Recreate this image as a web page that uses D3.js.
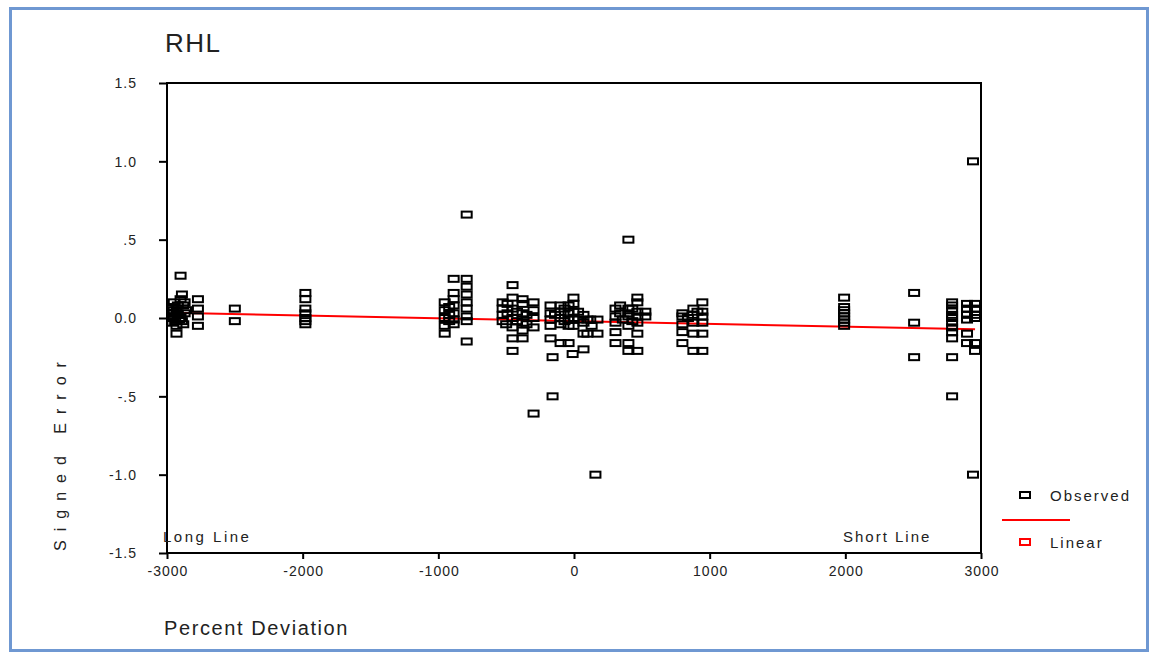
<!DOCTYPE html>
<html>
<head>
<meta charset="utf-8">
<script src="https://cdn.jsdelivr.net/npm/d3@7"></script>
<style>
  body { margin: 0; background: #fff; }
  svg text { font-family: "Liberation Sans", Arial, sans-serif; fill: #222; }
</style>
</head>
<body>
<div id="master"></div>
<script>
// observed points: percent deviation / signed error
const devs = [
  -2900, -2890, -2900, -2950, -2960, -2930, -2880, -2960, -2920, -2870, -2950, -2910, -2960, -2890, -2930, -2930, -2860,
  -2950, -2940, -2900, -2880, -2920, -2870,
  -2772, -2772, -2772, -2772, -2500, -2500,
  -1980, -1980, -1980, -1980, -1980, -1980, -1980,
  -953, -953, -953, -953, -953, -920, -920, -920,
  -887, -887, -887, -887, -887, -887, -887,
  -791, -791, -791, -791, -791, -791, -791, -791, -791,
  -526, -526, -526, -526, -490, -490, -500,
  -453, -453, -453, -453, -453, -453, -453, -420, -420,
  -379, -379, -379, -379, -379, -379, -350, -350,
  -298, -298, -298, -298, -298,
  -173, -173, -173, -173, -173, -158, -158, -140,
  -99, -99, -99, -99, -99, -70, -70, -40, -40, -40, -40, -40,
  -4, -4, -4, -4, -4, -10, 30, 30, 70, 70, 70, 70, 99, 99, 120, 130, 158, 173, 173,
  306, 306, 306, 306, 306, 340, 340, 360,
  401, 401, 401, 401, 401, 401, 401, 430, 430,
  467, 467, 467, 467, 467, 467, 467, 526, 526,
  799, 799, 799, 799, 799, 840, 880, 880, 880, 880, 880, 910,
  946, 946, 946, 946, 946, 946,
  1991, 1991, 1991, 1991, 1991, 1991, 1991, 1991,
  2507, 2507, 2507,
  2787, 2787, 2787, 2787, 2787, 2787, 2787, 2787, 2787, 2787, 2787,
  2897, 2897, 2897, 2897, 2897, 2897,
  2956, 2956, 2956, 2956, 2956, 2956, 2941, 2941
];
const errs = [
  0.27, 0.15, 0.12, 0.10, 0.07, 0.05, 0.08, 0.03, 0.02, 0.03, 0.00, -0.01, -0.03, -0.02, -0.05, -0.10, 0.05,
  0.05, -0.02, 0.00, -0.04, 0.08, 0.10,
  0.12, 0.06, 0.01, -0.05, 0.06, -0.02,
  0.16, 0.12, 0.06, 0.03, 0.00, -0.02, -0.04,
  0.10, 0.05, 0.00, -0.05, -0.10, 0.07, 0.02, -0.02,
  0.25, 0.16, 0.12, 0.08, 0.03, -0.01, -0.04,
  0.66, 0.25, 0.20, 0.15, 0.10, 0.06, 0.01, -0.02, -0.15,
  0.10, 0.06, 0.02, -0.02, 0.09, 0.03, -0.04,
  0.21, 0.13, 0.06, 0.00, -0.06, -0.13, -0.21, 0.04, -0.02,
  0.12, 0.09, 0.03, -0.03, -0.08, -0.13, 0.02, -0.04,
  0.10, 0.05, 0.00, -0.06, -0.61,
  0.08, 0.03, -0.01, -0.05, -0.13, -0.25, -0.50, 0.02,
  0.08, 0.04, 0.00, -0.04, -0.16, 0.06, -0.02, 0.08, 0.03, -0.01, -0.05, -0.16,
  0.13, 0.09, 0.04, 0.00, -0.05, -0.23, 0.04, -0.01, 0.02, -0.03, -0.10, -0.20, -0.01, -0.10, -0.01, -0.05, -1.00, -0.01, -0.10,
  0.06, 0.01, -0.03, -0.09, -0.16, 0.08, 0.03, -0.01,
  0.50, 0.06, 0.03, 0.01, -0.05, -0.16, -0.21, 0.06, -0.02,
  0.13, 0.10, 0.04, 0.01, -0.03, -0.10, -0.21, 0.04, 0.01,
  0.03, 0.01, -0.04, -0.09, -0.16, 0.00, 0.06, 0.02, -0.03, -0.10, -0.21, 0.04,
  0.10, 0.04, 0.01, -0.03, -0.10, -0.21,
  0.13, 0.07, 0.05, 0.03, 0.01, -0.01, -0.03, -0.05,
  0.16, -0.03, -0.25,
  0.10, 0.08, 0.05, 0.02, 0.00, -0.03, -0.06, -0.09, -0.13, -0.25, -0.50,
  0.09, 0.06, 0.02, -0.01, -0.10, -0.16,
  0.09, 0.06, 0.02, 0.00, -0.16, -0.21, 1.00, -1.00
];
// linear fit, read at its two ends
const fitDevs = [-2970, 2956];
const fitErrs = [0.033, -0.072];

const xTicks = [-3000, -2000, -1000, 0, 1000, 2000, 3000];
const yTicks = [1.5, 1.0, 0.5, 0.0, -0.5, -1.0, -1.5];
const yTickLabels = ["1.5", "1.0", ".5", "0.0", "-.5", "-1.0", "-1.5"];

const w = 1157, h = 654;
const padL = 167, padR = 981, padT = 83, padB = 553;

let svg = d3.select("#master").append("svg").attr("width", w).attr("height", h);

// outer frame
svg.append("rect").attr("x", 10.5).attr("y", 8.5).attr("width", 1137).attr("height", 642)
  .attr("fill", "none").attr("stroke", "#6f98d2").attr("stroke-width", 3);

let x = d3.scaleLinear().domain([-3000, 3000]).range([padL, padR]);
let y = d3.scaleLinear().domain([-1.5, 1.5]).range([padB, padT]);

// axes
let xAxis = d3.axisBottom(x).tickValues(xTicks).tickSize(6).tickSizeOuter(0).tickFormat(d => String(d));
let yAxis = d3.axisLeft(y).tickValues(yTicks).tickSize(8).tickSizeOuter(0)
  .tickFormat((d, i) => yTickLabels[i]);

let gx = svg.append("g").attr("transform", "translate(0," + padB + ")").call(xAxis);
let gy = svg.append("g").attr("transform", "translate(" + padL + ",0)").call(yAxis);
[gx, gy].forEach(g => {
  g.select(".domain").remove();
  g.selectAll("line").attr("stroke", "#000").attr("stroke-width", 2);
  g.selectAll("text").style("font-size", "14px").style("letter-spacing", "1px").attr("fill", "#222");
});
gx.selectAll("text").attr("dy", "1.0em").attr("dx", "0.5px");
gy.selectAll("text").attr("x", -30).attr("dy", "0.35em");

// plot box
svg.append("rect").attr("x", padL).attr("y", padT).attr("width", padR - padL).attr("height", padB - padT)
  .attr("fill", "none").attr("stroke", "#000").attr("stroke-width", 2);

// fit line
svg.append("line")
  .attr("x1", x(fitDevs[0])).attr("y1", y(fitErrs[0]))
  .attr("x2", x(fitDevs[1])).attr("y2", y(fitErrs[1]))
  .attr("stroke", "#ff0000").attr("stroke-width", 2);

// observed markers
svg.append("g").selectAll("rect")
  .data(devs.map((d, i) => [d, errs[i]]))
  .enter()
  .append("rect")
  .attr("x", d => x(d[0]) - 5)
  .attr("y", d => y(d[1]) - 3)
  .attr("width", 10)
  .attr("height", 6)
  .attr("fill", "none")
  .attr("stroke", "#000")
  .attr("stroke-width", 2);

// texts
svg.append("text").attr("x", 165).attr("y", 52).style("font-size", "26px").style("letter-spacing", "1.5px").text("RHL");
svg.append("text").attr("x", 164).attr("y", 635).style("font-size", "20px").style("letter-spacing", "1.6px").text("Percent Deviation");
svg.append("text").attr("transform", "translate(66,452) rotate(-90)").attr("text-anchor", "middle")
  .style("font-size", "16px").style("letter-spacing", "9px").text("Signed Error");
svg.append("text").attr("x", 163).attr("y", 542).style("font-size", "15px").style("letter-spacing", "2.5px").text("Long Line");
svg.append("text").attr("x", 843).attr("y", 542).style("font-size", "15px").style("letter-spacing", "2px").text("Short Line");

// legend
let legend = svg.append("g").attr("id", "legend");
legend.append("rect").attr("x", 1020).attr("y", 492).attr("width", 10).attr("height", 6)
  .attr("fill", "none").attr("stroke", "#000").attr("stroke-width", 2);
legend.append("text").attr("x", 1050).attr("y", 501).style("font-size", "15px").style("letter-spacing", "2px").text("Observed");
legend.append("line").attr("x1", 1002).attr("x2", 1070).attr("y1", 520).attr("y2", 520)
  .attr("stroke", "#ff0000").attr("stroke-width", 2);
legend.append("rect").attr("x", 1020).attr("y", 539).attr("width", 10).attr("height", 6)
  .attr("fill", "none").attr("stroke", "#ff0000").attr("stroke-width", 2);
legend.append("text").attr("x", 1050).attr("y", 548).style("font-size", "15px").style("letter-spacing", "2px").text("Linear");
</script>
</body>
</html>
